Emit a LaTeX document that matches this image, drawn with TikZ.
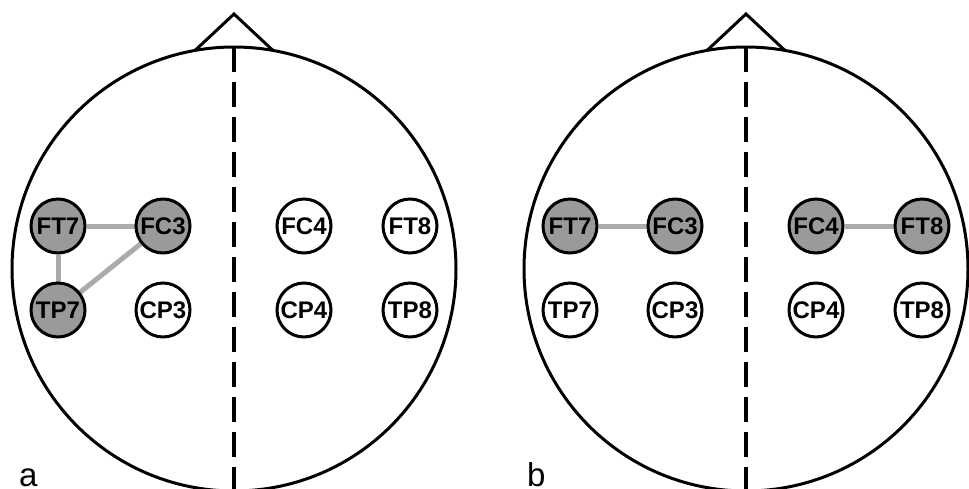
\documentclass[tikz,border=0pt]{standalone}
\usepackage{fontspec}
\setmainfont{Liberation Sans}
\usetikzlibrary{backgrounds}
\definecolor{elfill}{HTML}{9A9A9A}
\definecolor{linkcol}{HTML}{ABABAB}
\tikzset{
  electrode/.style={circle, draw=black, line width=3pt, fill=white, minimum size=54pt, inner sep=0pt,
    font=\fontsize{24}{24}\selectfont\bfseries},
  active/.style={electrode, fill=elfill},
  headline/.style={draw=black, line width=3pt},
  midline/.style={draw=black, line width=3.4pt, dash pattern=on 25pt off 10pt},
  link/.style={draw=linkcol, line width=5pt},
  panellabel/.style={anchor=base west, inner sep=0pt, font=\fontsize{33}{33}\selectfont}
}
\begin{document}
\begin{tikzpicture}[x=1pt,y=-1pt]
\useasboundingbox (0,0) rectangle (969,488);
% ---------- panel a ----------
\begin{scope}
  \coordinate (aC) at (234,269);
  \draw[headline] (aC) circle[radius=222];
  \coordinate (aNL) at (195,50.5);
  \coordinate (aNR) at (273,50.5);
  \coordinate (aNT) at (234,14);
  \draw[headline, line join=miter] (aNL) -- (aNT) -- (aNR);
  \coordinate (aMT) at (234,47);
  \coordinate (aMB) at (234,490);
  \draw[midline] (aMT) -- (aMB);
  \node[active] (aFT7) at (58,226) {FT7};
  \node[active] (aFC3) at (163,226) {FC3};
  \node[active] (aTP7) at (58,310) {TP7};
  \node[electrode] (aCP3) at (163,310) {CP3};
  \node[electrode] (aFC4) at (304,226) {FC4};
  \node[electrode] (aFT8) at (410,226) {FT8};
  \node[electrode] (aCP4) at (304,310) {CP4};
  \node[electrode] (aTP8) at (410,310) {TP8};
  \begin{pgfonlayer}{background}
    \draw[link] (aFT7) -- (aFC3);
    \draw[link] (aFT7) -- (aTP7);
    \draw[link] (aTP7) -- (aFC3);
  \end{pgfonlayer}
  \node[panellabel] (alab) at (19,486) {a};
\end{scope}
% ---------- panel b ----------
\begin{scope}
  \coordinate (bC) at (746,269);
  \draw[headline] (bC) circle[radius=222];
  \coordinate (bNL) at (707,50.5);
  \coordinate (bNR) at (785,50.5);
  \coordinate (bNT) at (746,14);
  \draw[headline, line join=miter] (bNL) -- (bNT) -- (bNR);
  \coordinate (bMT) at (746,47);
  \coordinate (bMB) at (746,490);
  \draw[midline] (bMT) -- (bMB);
  \node[active] (bFT7) at (570,226) {FT7};
  \node[active] (bFC3) at (675,226) {FC3};
  \node[electrode] (bTP7) at (570,310) {TP7};
  \node[electrode] (bCP3) at (675,310) {CP3};
  \node[active] (bFC4) at (816,226) {FC4};
  \node[active] (bFT8) at (922,226) {FT8};
  \node[electrode] (bCP4) at (816,310) {CP4};
  \node[electrode] (bTP8) at (922,310) {TP8};
  \begin{pgfonlayer}{background}
    \draw[link] (bFT7) -- (bFC3);
    \draw[link] (bFC4) -- (bFT8);
  \end{pgfonlayer}
  \node[panellabel] (blab) at (527,486) {b};
\end{scope}
\end{tikzpicture}
\end{document}
